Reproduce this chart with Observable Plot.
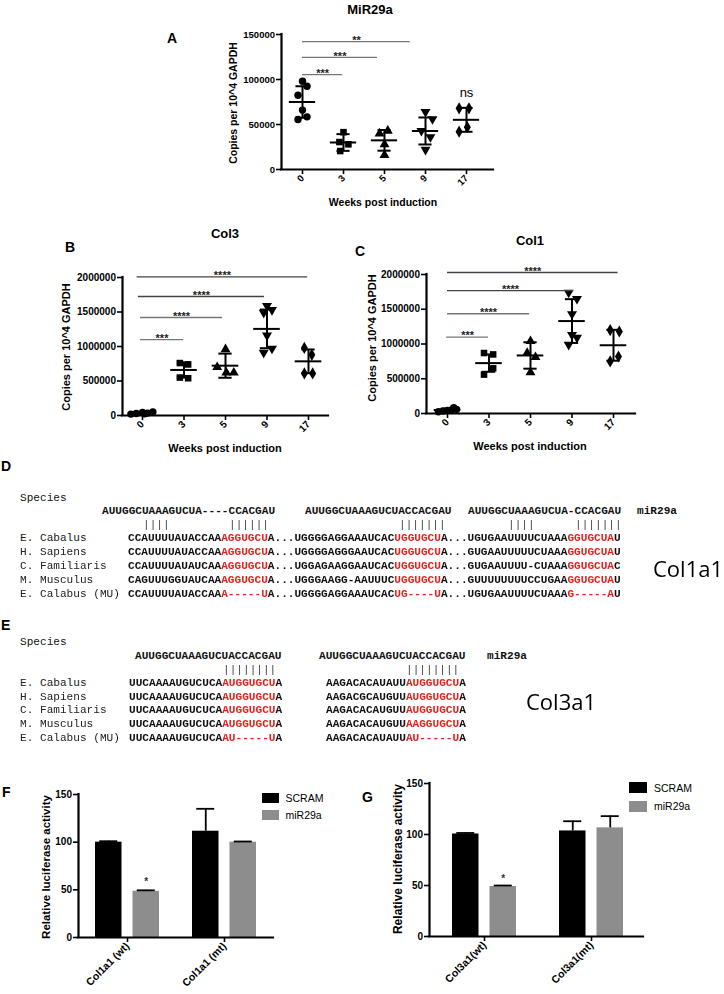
<!DOCTYPE html>
<html><head><meta charset="utf-8">
<script src="https://cdn.jsdelivr.net/npm/d3@7"></script>
<script src="https://cdn.jsdelivr.net/npm/@observablehq/plot@0.6"></script>
<style>
html,body{margin:0;padding:0;background:#fff}
#root{position:relative;width:724px;height:994px;overflow:hidden;background:#fff;font-family:"Liberation Sans",Arial,Helvetica,sans-serif;color:#000}
.t{position:absolute;line-height:1;white-space:pre}
.seq{position:absolute;font-family:"Liberation Mono","Courier New",monospace;font-size:11.1px;line-height:14px;white-space:pre;color:#111;font-weight:bold}
.pairs{will-change:transform;transform:translateZ(0);-webkit-font-smoothing:antialiased}
.sw{position:absolute}
</style></head><body><div id="root"></div>
<script>
// ================= DATA =================
const weekLabels = ["0", "3", "5", "9", "17"];

// Panel A : MiR29a (copies per 10^4 GAPDH)
const mir29aPoints = [
  [98000, 92500, 82500, 66000, 55500, 58500],
  [41500, 30500, 28000, 20500],
  [40000, 43000, 28000, 16000],
  [64000, 56000, 43000, 36000, 22000],
  [68000, 68000, 47000, 42000]
];
const mir29aMean = [75000, 30000, 32400, 42800, 55200];
const mir29aSD = [17500, 9300, 11500, 15000, 13300];
const mir29aSigFrom = [0, 0, 0];
const mir29aSigTo = [0.98, 1.83, 2.63];
const mir29aSigLevel = [105500, 124500, 142000];
const mir29aSigLabel = ["***", "***", "**"];
const mir29aNsWeek = [4];
const mir29aNsLevel = [85500];

// Panel B : Col3
const col3Points = [
  [20000, 30000, 45000, 35000, 50000, 25000],
  [760000, 740000, 550000, 540000],
  [960000, 700000, 620000, 620000],
  [1590000, 1530000, 1490000, 1160000, 970000, 910000],
  [980000, 880000, 610000, 610000]
];
const col3Mean = [35000, 660000, 722000, 1255000, 785000];
const col3SD = [12000, 110000, 175000, 280000, 172000];
const col3SigFrom = [-0.05, -0.05, -0.1, -0.13];
const col3SigTo = [0.99, 1.93, 2.94, 3.98];
const col3SigLevel = [1100000, 1420000, 1725000, 2010000];
const col3SigLabel = ["***", "****", "****", "****"];

// Panel C : Col1
const col1Points = [
  [25000, 35000, 45000, 50000, 60000, 85000],
  [870000, 850000, 650000, 560000],
  [1040000, 870000, 810000, 590000],
  [1740000, 1650000, 1430000, 1130000, 1090000, 990000],
  [1200000, 1180000, 820000, 750000]
];
const col1Mean = [50000, 725000, 835000, 1330000, 982000];
const col1SD = [18000, 125000, 190000, 315000, 222000];
const col1SigFrom = [-0.02, 0, 0, 0];
const col1SigTo = [0.99, 1.98, 3.04, 4.11];
const col1SigLevel = [1100000, 1435000, 1768000, 2029000];
const col1SigLabel = ["***", "****", "****", "****"];

// Panel D : Col1a1 alignment ([..] = seed match, red)
const speciesNames = ["E. Cabalus", "H. Sapiens", "C. Familiaris", "M. Musculus", "E. Calabus (MU)"];
const mirCol1a1 = ["AUUGGCUAAAGUCUA----CCACGAU", "AUUGGCUAAAGUCUACCACGAU", "AUUGGCUAAAGUCUA-CCACGAU"];
const col1a1Seqs = [
  "CCAUUUUAUACCAA[AGGUGCU]A...UGGGGAGGAAAUCAC[UGGUGCU]A...UGUGAAUUUUCUAAA[GGUGCUA]U",
  "CCAUUUUAUACCAA[AGGUGCU]A...UGGGGAGGGAAUCAC[UGGUGCU]A...GUGAAUUUUUCUAAA[GGUGCUA]U",
  "CCAUUUUAUAUCAA[AGGUGCU]A...UGGAGAAGGAAUCAC[UGGUGCU]A...GUGAAUUUU-CUAAA[GGUGCUA]C",
  "CAGUUUGGUAUCAA[AGGUGCU]A...UGGGAAGG-AAUUUC[UGGUGCU]A...GUUUUUUUUCCUGAA[GGUGCUA]U",
  "CCAUUUUAUACCAA[A-----U]A...UGGGGAGGAAAUCAC[UG----U]A...UGUGAAUUUUCUAAA[G-----A]U"
];
const col1a1Pairs = ["||||", "||||||", "|||||||", "||||", "|||||||"];

// Panel E : Col3a1 alignment
const mirCol3a1 = ["AUUGGCUAAAGUCUACCACGAU", "AUUGGCUAAAGUCUACCACGAU"];
const col3a1Site1 = [
  "UUCAAAAUGUCUCA[AUGGUGCU]A",
  "UUCAAAAUGUCUCA[AUGGUGCU]A",
  "UUCAAAAUGUCUCA[AUGGUGCU]A",
  "UUCAAAAUGUCUCA[AUGGUGCU]A",
  "UUCAAAAUGUCUCA[AU-----U]A"
];
const col3a1Site2 = [
  "AAGACACAUAUU[AUGGUGCU]A",
  "AAGACGCAUGUU[AUGGUGCU]A",
  "AAGACACAUGUU[AUGGUGCU]A",
  "AAGACACAUGUU[AAGGUGCU]A",
  "AAGACACAUAUU[AU-----U]A"
];
const col3a1Pairs = ["||||||||", "||||||||"];

// Panel F : luciferase Col1a1
const lucSeries = ["SCRAM", "miR29a"];
const col1a1Constructs = ["Col1a1 (wt)", "Col1a1 (mt)"];
const col1a1Scram = [100, 111.5];
const col1a1ScramErr = [1, 23.5];
const col1a1Mir = [48.5, 100];
const col1a1MirErr = [1, 0.7];
const col1a1StarGroup = [0];
const col1a1StarLevel = [61];

// Panel G : luciferase Col3a1
const col3a1Constructs = ["Col3a1(wt)", "Col3a1(mt)"];
const col3a1Scram = [100.5, 103.5];
const col3a1ScramErr = [1, 9.5];
const col3a1Mir = [49, 106.5];
const col3a1MirErr = [1, 11.5];
const col3a1StarGroup = [0];
const col3a1StarLevel = [59];

// ================= DRAWING =================
const root = document.getElementById("root");
const FONT = '"Liberation Sans", Arial, Helvetica, sans-serif';
const RED = "#e2231f";
const GRAY = "#8d8d8d";

const triangleDown = {
  draw(context, size) {
    const s3 = Math.sqrt(3);
    const y = -Math.sqrt(size / (s3 * 3));
    context.moveTo(0, -y * 2);
    context.lineTo(-s3 * y, y);
    context.lineTo(s3 * y, y);
    context.closePath();
  }
};
const weekSymbols = ["circle", "square", "triangle", triangleDown, "diamond"];

function text(str, x, y, o = {}) {
  const d = document.createElement("div");
  d.className = "t";
  d.textContent = str;
  d.style.left = x + "px";
  d.style.top = y + "px";
  d.style.fontSize = (o.size || 11) + "px";
  d.style.fontWeight = o.weight || "bold";
  if (o.family) d.style.fontFamily = o.family;
  if (o.color) d.style.color = o.color;
  const tx = o.anchor === "start" ? "0" : "-50%";
  d.style.transform = `translate(${tx},-50%)` + (o.rotate ? ` rotate(${o.rotate}deg)` : "");
  root.appendChild(d);
}

function seq(str, x, yc, o = {}) {
  const d = document.createElement("div");
  d.className = "seq" + (o.cls ? " " + o.cls : "");
  d.style.left = x + "px";
  d.style.top = (yc - 7) + "px";
  if (o.weight) d.style.fontWeight = o.weight;
  if (o.color) d.style.color = o.color;
  for (const part of str.split(/(\[[^\]]*\])/)) {
    if (!part) continue;
    const s = document.createElement("span");
    if (part[0] === "[") { s.textContent = part.slice(1, -1); s.style.color = RED; }
    else s.textContent = part;
    d.appendChild(s);
  }
  root.appendChild(d);
}

function place(svg, left, top) {
  svg.style.position = "absolute";
  svg.style.left = left + "px";
  svg.style.top = top + "px";
  root.appendChild(svg);
}

function scatterPanel(c) {
  const ml = 70, mr = 30, mt = 30, mb = 60;
  const xDom = [(c.L - c.x0) / c.step, (c.R - c.x0) / c.step];
  const width = ml + (c.R - c.L) + mr, height = mt + (c.B - c.T) + mb;
  const stats = c.mean.map((m, i) => ({i, m, lo: m - c.sd[i], hi: m + c.sd[i]}));
  const sig = c.sigLevel.map((lv, k) => ({from: c.sigFrom[k], to: c.sigTo[k], level: lv, label: c.sigLabel[k], col: c.sigColors[k]}));
  const marks = [
    Plot.ruleY([0], {x1: xDom[0], x2: xDom[1], strokeWidth: 2.2, strokeLinecap: "square"}),
    Plot.ruleX([xDom[0]], {y1: 0, y2: c.yMax, strokeWidth: 2.2, strokeLinecap: "square"}),
    Plot.axisY({ticks: c.yTicks, tickFormat: d3.format("d"), tickSize: 5, tickPadding: 1.5, strokeWidth: 1.6, fontSize: c.tickFont, fontWeight: "bold", label: null}),
    Plot.axisX({ticks: d3.range(weekLabels.length), tickFormat: i => weekLabels[i], tickSize: 5, tickPadding: 2, tickRotate: -45, strokeWidth: 1.6, fontSize: c.tickFont, fontWeight: "bold", label: null}),
    ...c.points.map((vals, i) => Plot.dot(vals.map((v, k) => ({x: i + c.jitter[i][k], v})), {x: "x", y: "v", symbol: weekSymbols[i], fill: "#000", r: 3.7})),
    Plot.ruleY(stats, {y: "m", x1: d => d.i - 0.32, x2: d => d.i + 0.32, strokeWidth: 2}),
    Plot.ruleX(stats, {x: "i", y1: "lo", y2: "hi", strokeWidth: 2}),
    Plot.ruleY(stats, {y: "hi", x1: d => d.i - 0.16, x2: d => d.i + 0.16, strokeWidth: 2}),
    Plot.ruleY(stats, {y: "lo", x1: d => d.i - 0.16, x2: d => d.i + 0.16, strokeWidth: 2}),
    Plot.ruleY(sig, {y: "level", x1: "from", x2: "to", stroke: "col", strokeWidth: 1.3}),
    Plot.text(sig, {x: d => (d.from + d.to) / 2, y: "level", text: "label", lineAnchor: "bottom", dy: 2.3, fontSize: 11, fontWeight: "bold", fill: "#222"})
  ];
  if (c.extra) marks.push(...c.extra);
  const svg = Plot.plot({
    width, height, marginLeft: ml, marginRight: mr, marginTop: mt, marginBottom: mb,
    x: {type: "linear", domain: xDom},
    y: {domain: [0, c.yMax]},
    style: {fontFamily: FONT, fontWeight: "bold", background: "transparent", overflow: "visible", color: "#000"},
    marks
  });
  place(svg, c.L - ml, c.T - mt);
}

function barPanel(c) {
  const ml = 70, mr = 30, mt = 30, mb = 80;
  const xDom = [(c.L - c.x0) / c.step, (c.R - c.x0) / c.step];
  const width = ml + (c.R - c.L) + mr, height = mt + (c.B - c.T) + mb;
  const px = p => p / c.step;
  const series = [
    {vals: c.scram, errs: c.scramErr, fill: "#000", o0: -32, o1: -5.5},
    {vals: c.mir, errs: c.mirErr, fill: GRAY, o0: 5.5, o1: 32}
  ];
  const bars = series.flatMap(s => s.vals.map((v, i) => ({
    i, v, e: s.errs[i], fill: s.fill, a: i + px(s.o0), b: i + px(s.o1), m: i + px((s.o0 + s.o1) / 2)
  })));
  const stars = c.starGroup.map((g, k) => ({x: g + px(18.75), y: c.starLevel[k]}));
  const svg = Plot.plot({
    width, height, marginLeft: ml, marginRight: mr, marginTop: mt, marginBottom: mb,
    x: {type: "linear", domain: xDom},
    y: {domain: [0, c.yMax]},
    style: {fontFamily: FONT, fontWeight: "bold", background: "transparent", overflow: "visible", color: "#000"},
    marks: [
      Plot.rectY(bars, {x1: "a", x2: "b", y1: 0, y2: "v", fill: "fill"}),
      Plot.ruleX(bars, {x: "m", y1: "v", y2: d => d.v + d.e, strokeWidth: 1.8}),
      Plot.ruleY(bars, {y: d => d.v + d.e, x1: d => d.m - px(9), x2: d => d.m + px(9), strokeWidth: 1.8}),
      Plot.ruleY([0], {x1: xDom[0], x2: xDom[1], strokeWidth: 2.2, strokeLinecap: "square"}),
      Plot.ruleX([xDom[0]], {y1: 0, y2: c.yMax, strokeWidth: 2.2, strokeLinecap: "square"}),
      Plot.axisY({ticks: [0, 50, 100, 150], tickSize: 5, tickPadding: 1.5, strokeWidth: 1.6, fontSize: 10, fontWeight: "bold", label: null}),
      Plot.axisX({ticks: d3.range(c.labels.length), tickFormat: i => c.labels[i], tickSize: 5, tickPadding: 2, tickRotate: -45, strokeWidth: 1.6, fontSize: 10.5, fontWeight: "bold", label: null}),
      Plot.text(stars, {x: "x", y: "y", text: () => "*", lineAnchor: "bottom", dy: 5.7, fontSize: 10, fill: "#333"})
    ]
  });
  place(svg, c.L - ml, c.T - mt);
}

// ----- Panel A
scatterPanel({
  L: 281, R: 493, T: 34, B: 169, x0: 302, step: 41, yMax: 150000,
  yTicks: [0, 50000, 100000, 150000], tickFont: 9.5,
  points: mir29aPoints, mean: mir29aMean, sd: mir29aSD,
  jitter: [[0, 0.11, -0.11, 0, -0.11, 0.11], [0, -0.1, 0.12, -0.08], [-0.12, 0.08, 0, 0], [0, 0.17, -0.1, 0.12, 0], [-0.18, 0.06, 0.02, -0.18]],
  sigFrom: mir29aSigFrom, sigTo: mir29aSigTo, sigLevel: mir29aSigLevel, sigLabel: mir29aSigLabel,
  sigColors: ["#777", "#777", "#777"],
  extra: [Plot.text(mir29aNsWeek.map((w, k) => ({x: w, y: mir29aNsLevel[k]})), {x: "x", y: "y", text: () => "ns", fontSize: 13, fontWeight: "normal", lineAnchor: "middle"})]
});
text("MiR29a", 370, 9, {size: 13});
text("A", 172, 38, {size: 14});
text("Weeks post induction", 383, 202, {size: 10.5});
text("Copies per 10^4 GAPDH", 233, 103, {size: 10.5, rotate: -90});

// ----- Panel B
scatterPanel({
  L: 122, R: 328, T: 277, B: 415, x0: 142, step: 41.5, yMax: 2000000,
  yTicks: [0, 500000, 1000000, 1500000, 2000000], tickFont: 10,
  points: col3Points, mean: col3Mean, sd: col3SD,
  jitter: [[-0.28, -0.15, 0, 0.12, 0.25, 0.05], [-0.1, 0.1, -0.1, 0.1], [0, -0.2, 0.02, 0.2], [0, 0.12, -0.08, 0, 0.12, -0.08], [-0.1, 0.08, -0.1, 0.1]],
  sigFrom: col3SigFrom, sigTo: col3SigTo, sigLevel: col3SigLevel, sigLabel: col3SigLabel,
  sigColors: ["#777", "#777", "#444", "#444"]
});
text("Col3", 225, 233, {size: 13});
text("B", 70, 247, {size: 14});
text("Weeks post induction", 225, 448, {size: 11});
text("Copies per 10^4 GAPDH", 66, 347, {size: 11, rotate: -90});

// ----- Panel C
scatterPanel({
  L: 426, R: 635, T: 274, B: 413, x0: 447, step: 41.5, yMax: 2000000,
  yTicks: [0, 500000, 1000000, 1500000, 2000000], tickFont: 10,
  points: col1Points, mean: col1Mean, sd: col1SD,
  jitter: [[-0.22, -0.1, 0, 0.1, 0.22, 0.15], [-0.12, 0.1, 0.1, -0.12], [0, -0.08, 0.12, 0], [-0.08, 0.12, 0, 0, 0.12, -0.08], [-0.08, 0.14, 0.12, -0.08]],
  sigFrom: col1SigFrom, sigTo: col1SigTo, sigLevel: col1SigLevel, sigLabel: col1SigLabel,
  sigColors: ["#777", "#777", "#444", "#444"]
});
text("Col1", 530, 240, {size: 13});
text("C", 360, 251, {size: 14});
text("Weeks post induction", 530, 446, {size: 11});
text("Copies per 10^4 GAPDH", 372, 338, {size: 11, rotate: -90});

// ----- Panel D
text("D", 1, 466, {size: 14, anchor: "start"});
seq("Species", 20, 498, {weight: "normal"});
seq(mirCol1a1[0], 102, 511);
seq(mirCol1a1[1], 305, 511);
seq(mirCol1a1[2], 468, 511);
seq("miR29a", 637, 511);
[142.7, 228.7, 398.7, 507.7, 574.7].forEach((x, k) => seq(col1a1Pairs[k], x, 525, {weight: "normal", color: "#444", cls: "pairs"}));
const rowsD = [538, 552, 566, 580, 594];
speciesNames.forEach((n, k) => { seq(n, 20, rowsD[k], {weight: "normal", color: "#222"}); seq(col1a1Seqs[k], 128, rowsD[k]); });
text("Col1a1", 653, 568, {size: 22, weight: "normal", family: '"Open Sans", "Noto Sans", sans-serif', anchor: "start"});

// ----- Panel E
text("E", 1, 625, {size: 14, anchor: "start"});
seq("Species", 20, 642, {weight: "normal"});
seq(mirCol3a1[0], 135, 656);
seq(mirCol3a1[1], 319, 656);
seq("miR29a", 487, 656);
[222.7, 405.7].forEach((x, k) => seq(col3a1Pairs[k], x, 670, {weight: "normal", color: "#444", cls: "pairs"}));
const rowsE = [683, 697, 710, 724, 738];
speciesNames.forEach((n, k) => { seq(n, 20, rowsE[k], {weight: "normal", color: "#222"}); seq(col3a1Site1[k], 129, rowsE[k]); seq(col3a1Site2[k], 326, rowsE[k]); });
text("Col3a1", 526, 701, {size: 22, weight: "normal", family: '"Open Sans", "Noto Sans", sans-serif', anchor: "start"});

// ----- Panel F
barPanel({
  L: 78, R: 273, T: 794, B: 937, x0: 127, step: 97, yMax: 150,
  labels: col1a1Constructs, scram: col1a1Scram, scramErr: col1a1ScramErr, mir: col1a1Mir, mirErr: col1a1MirErr,
  starGroup: col1a1StarGroup, starLevel: col1a1StarLevel
});
text("F", 2, 792, {size: 14, anchor: "start"});
text("Relative luciferase activity", 47, 867, {size: 11.5, rotate: -90});

// ----- Panel G
barPanel({
  L: 429, R: 643, T: 783, B: 936, x0: 484, step: 107, yMax: 150,
  labels: col3a1Constructs, scram: col3a1Scram, scramErr: col3a1ScramErr, mir: col3a1Mir, mirErr: col3a1MirErr,
  starGroup: col3a1StarGroup, starLevel: col3a1StarLevel
});
text("G", 362, 797, {size: 14, anchor: "start"});
text("Relative luciferase activity", 398, 859, {size: 12, rotate: -90});

// ----- Legends
function legend(x, ys, h, w) {
  lucSeries.forEach((s, k) => {
    const sw = document.createElement("div");
    sw.className = "sw";
    sw.style.left = x + "px"; sw.style.top = (ys[k] - h / 2) + "px";
    sw.style.width = w + "px"; sw.style.height = h + "px";
    sw.style.background = k === 0 ? "#000" : GRAY;
    root.appendChild(sw);
    text(s, x + w + 7, ys[k], {size: 10.5, weight: "normal", anchor: "start"});
  });
}
legend(262, [798, 814.5], 10, 16.5);
legend(629, [787.5, 806], 11, 18);
</script></body></html>
